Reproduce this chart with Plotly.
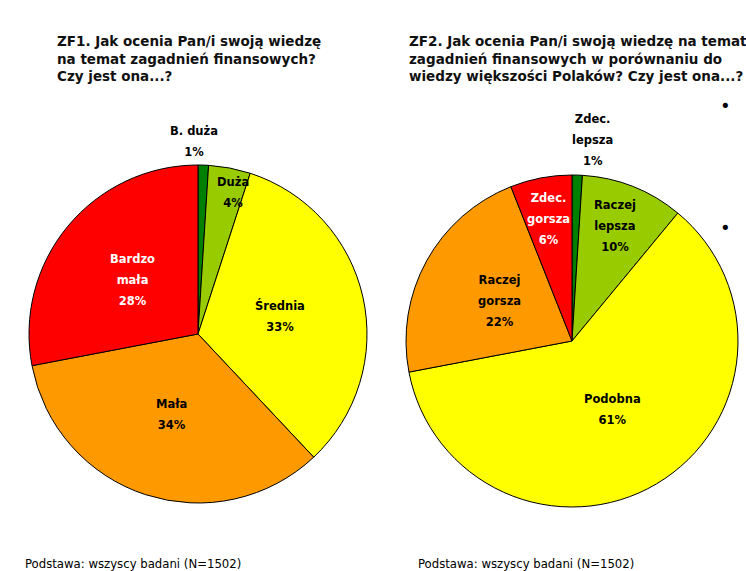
import numpy as np
import plotly.graph_objects as go

# ZF1 - own knowledge
zf1_labels = ['B. duża', 'Duża', 'Średnia', 'Mała', 'Bardzo<br>mała']
zf1_values = [1, 4, 33, 34, 28]

# ZF2 - compared to most Poles
zf2_labels = ['Zdec.<br>lepsza', 'Raczej<br>lepsza', 'Podobna', 'Raczej<br>gorsza', 'Zdec.<br>gorsza']
zf2_values = [1, 10, 61, 22, 6]

zf1_title = 'ZF1. Jak ocenia Pan/i swoją wiedzę<br>na temat zagadnień finansowych?<br>Czy jest ona...?'
zf2_title = ('ZF2. Jak ocenia Pan/i swoją wiedzę na temat<br>zagadnień finansowych w porównaniu do'
             '<br>wiedzy większości Polaków? Czy jest ona...?')
footnote = 'Podstawa: wszyscy badani (N=1502)'

colors = ['#008000', '#99cc00', '#ffff00', '#ff9900', '#ff0000']
text_colors = ['black', 'black', 'black', 'black', 'white']

W, H = 746, 571

# pie geometry in pixels: centre x, centre y, radius
geo1 = (198, 334, 169)
geo2 = (572, 341, 166)

# where each label sits (fraction of radius) and a small angular nudge
zf1_rad = [1.14, 0.86, 0.5, 0.5, 0.5]
zf1_nudge = [-3, 3, 0, 0, 0]
zf2_rad = [1.22, 0.74, 0.48, 0.5, 0.75]
zf2_nudge = [4, -1, 0, 0, 0]


def domain(g):
    cx, cy, r = g
    return dict(x=[(cx - r) / W, (cx + r) / W], y=[1 - (cy + r) / H, 1 - (cy - r) / H])


def label_annotations(g, labels, values, rad, nudge):
    cx, cy, r = g
    vals = np.array(values, dtype=float)
    cum = np.cumsum(vals) - vals / 2
    ann = []
    for i, lab in enumerate(labels):
        ang = np.radians(cum[i] / vals.sum() * 360 + nudge[i])
        x = cx + rad[i] * r * np.sin(ang)
        y = cy - rad[i] * r * np.cos(ang)
        ann.append(dict(
            x=x / W, y=1 - y / H, xref='paper', yref='paper',
            text='<span style="font-size:11.5px">%s<br>%d%%</span>' % (lab, values[i]),
            showarrow=False, xanchor='center', yanchor='middle',
            font=dict(family='DejaVu Sans', size=16, color=text_colors[i], weight='bold')))
    return ann


fig = go.Figure()
fig.add_trace(go.Pie(labels=zf1_labels, values=zf1_values, sort=False, direction='clockwise',
                     marker=dict(colors=colors, line=dict(color='black', width=1)),
                     textinfo='none', hoverinfo='label+percent', domain=domain(geo1), showlegend=False))
fig.add_trace(go.Pie(labels=zf2_labels, values=zf2_values, sort=False, direction='clockwise',
                     marker=dict(colors=colors, line=dict(color='black', width=1)),
                     textinfo='none', hoverinfo='label+percent', domain=domain(geo2), showlegend=False))

annotations = label_annotations(geo1, zf1_labels, zf1_values, zf1_rad, zf1_nudge)
annotations += label_annotations(geo2, zf2_labels, zf2_values, zf2_rad, zf2_nudge)

title_font = dict(family='DejaVu Sans', size=13.5, color='#111111', weight='bold')
annotations.append(dict(x=55 / W, y=1 - 31 / H, xref='paper', yref='paper', text=zf1_title,
                        showarrow=False, xanchor='left', yanchor='top', align='left', font=title_font))
annotations.append(dict(x=407 / W, y=1 - 31 / H, xref='paper', yref='paper', text=zf2_title,
                        showarrow=False, xanchor='left', yanchor='top', align='left', font=title_font))

foot_font = dict(family='DejaVu Sans Condensed, DejaVu Sans', size=13, color='black')
annotations.append(dict(x=23 / W, y=1 - 563 / H, xref='paper', yref='paper', text=footnote,
                        showarrow=False, xanchor='left', yanchor='middle', font=foot_font))
annotations.append(dict(x=416 / W, y=1 - 563 / H, xref='paper', yref='paper', text=footnote,
                        showarrow=False, xanchor='left', yanchor='middle', font=foot_font))

# stray bullets on the right edge
for by in [105, 228]:
    annotations.append(dict(x=725 / W, y=1 - by / H, xref='paper', yref='paper', text='•',
                            showarrow=False, xanchor='center', yanchor='middle',
                            font=dict(family='DejaVu Sans', size=18, color='black')))

fig.update_layout(width=W, height=H, margin=dict(l=0, r=0, t=0, b=0),
                  paper_bgcolor='white', plot_bgcolor='white', annotations=annotations)

# drop the default body margin so the figure fills the window exactly
fig.write_html("out.html", config={'displayModeBar': False},
               post_script="document.body.style.margin='0px';")
